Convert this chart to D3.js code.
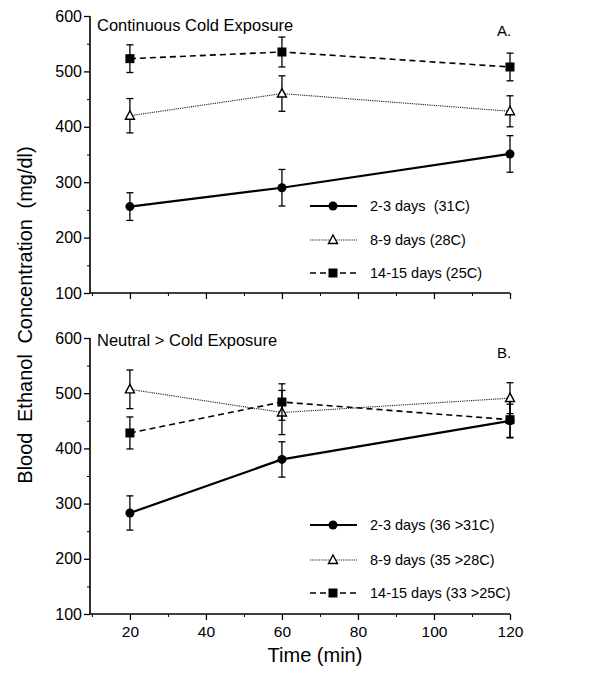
<!DOCTYPE html>
<html>
<head>
<meta charset="utf-8">
<script src="https://cdn.jsdelivr.net/npm/d3@7"></script>
<style>
body { margin: 0; background: #fff; }
svg { font-family: "Liberation Sans", Arial, sans-serif; }
</style>
</head>
<body>
<div id="chart"></div>
<script>
var width = 590, height = 675;

// shared
var times = [20, 60, 120];
var series_names = ['2-3 days', '8-9 days', '14-15 days'];

// panel A: continuous cold exposure
var a_labels = ['2-3 days  (31C)', '8-9 days (28C)', '14-15 days (25C)'];
var a_mean_23 = [256, 290, 351];
var a_err_23 = [25, 33, 33];
var a_mean_89 = [420, 460, 428];
var a_err_89 = [31, 32, 28];
var a_mean_1415 = [523, 535, 508];
var a_err_1415 = [25, 27, 25];

// panel B: neutral > cold exposure
var b_labels = ['2-3 days (36 >31C)', '8-9 days (35 >28C)', '14-15 days (33 >25C)'];
var b_mean_23 = [283, 380, 450];
var b_err_23 = [31, 32, 30];
var b_mean_89 = [507, 465, 491];
var b_err_89 = [35, 40, 28];
var b_mean_1415 = [428, 484, 452];
var b_err_1415 = [29, 33, 33];

var y_ticks = [100, 200, 300, 400, 500, 600];
var x_ticks = [20, 40, 60, 80, 100, 120];

var styles = [
    {dash: null, width: 2.2, marker: 'circle'},
    {dash: '1.2,1', width: 1.1, marker: 'triangle'},
    {dash: '6,4', width: 1.6, marker: 'square'}
];

var svg = d3.select('#chart').append('svg')
    .attr('width', width)
    .attr('height', height);

var x_scale = d3.scaleLinear().domain([9.5, 120]).range([90, 510]);

function drawPanel(top, bottom, title, title_dy, letter, labels, means, errs, legend_y, show_x_labels){
    var y_scale = d3.scaleLinear().domain([100, 600]).range([bottom, top]);
    var g = svg.append('g');

    // y axis
    var y_axis = d3.axisLeft(y_scale).tickValues(y_ticks).tickSize(6).tickPadding(2);
    var ya = g.append('g').attr('transform', 'translate(90,0)').call(y_axis);
    ya.select('.domain').attr('d', 'M0,' + y_scale(600) + 'V' + y_scale(100)).attr('stroke-width', 1.6);
    ya.selectAll('text').style('font-size', '16px').style('fill', '#000');
    ya.selectAll('line').attr('stroke-width', 1.3);
    g.append('g').attr('transform', 'translate(90,0)')
        .call(d3.axisLeft(y_scale).tickValues(d3.range(150, 600, 100)).tickSize(3).tickFormat(''))
        .select('.domain').remove();

    // x axis
    var x_axis = d3.axisBottom(x_scale).tickValues(x_ticks).tickSize(6).tickPadding(6);
    if(!show_x_labels) x_axis.tickFormat('');
    var xa = g.append('g').attr('transform', 'translate(0,' + bottom + ')').call(x_axis);
    xa.select('.domain').attr('d', 'M90,0H510').attr('stroke-width', 1.6);
    xa.selectAll('text').style('font-size', '15.5px').style('fill', '#000');
    xa.selectAll('line').attr('stroke-width', 1.3);
    g.append('g').attr('transform', 'translate(0,' + bottom + ')')
        .call(d3.axisBottom(x_scale).tickValues(d3.range(10, 120, 20)).tickSize(3).tickFormat(''))
        .select('.domain').remove();

    g.append('text').attr('x', 97).attr('y', top + title_dy)
        .style('font-size', '16.5px').text(title);
    g.append('text').attr('x', 497).attr('y', top + 20)
        .style('font-size', '15px').text(letter);

    var line = d3.line()
        .x(function(d){ return x_scale(d.t); })
        .y(function(d){ return y_scale(d.v); });

    means.forEach(function(m, i){
        var pts = times.map(function(t, j){ return {t: t, v: m[j], e: errs[i][j]}; });
        var st = styles[i];

        // error bars
        var eb = g.append('g');
        pts.forEach(function(p){
            var x = x_scale(p.t);
            eb.append('line').attr('x1', x).attr('x2', x)
                .attr('y1', y_scale(p.v - p.e)).attr('y2', y_scale(p.v + p.e))
                .attr('stroke', '#000').attr('stroke-width', 1.3);
            [p.v - p.e, p.v + p.e].forEach(function(v){
                eb.append('line').attr('x1', x - 3.5).attr('x2', x + 3.5)
                    .attr('y1', y_scale(v)).attr('y2', y_scale(v))
                    .attr('stroke', '#000').attr('stroke-width', 1.3);
            });
        });

        g.append('path').datum(pts)
            .attr('d', line)
            .attr('fill', 'none')
            .attr('stroke', i === 1 ? '#222' : '#000')
            .attr('stroke-width', st.width)
            .attr('stroke-dasharray', st.dash);

        pts.forEach(function(p){
            drawMarker(g, st.marker, x_scale(p.t), y_scale(p.v));
        });

        // legend
        var ly = legend_y[i];
        g.append('line').attr('x1', 310).attr('x2', 357).attr('y1', ly).attr('y2', ly)
            .attr('stroke', i === 1 ? '#222' : '#000')
            .attr('stroke-width', st.width)
            .attr('stroke-dasharray', st.dash);
        drawMarker(g, st.marker, 333, ly);
        g.append('text').attr('x', 370).attr('y', ly + 5)
            .style('font-size', '14.5px')
            .style('white-space', 'pre')
            .text(labels[i]);
    });
}

function drawMarker(g, type, x, y){
    if(type === 'circle'){
        g.append('circle').attr('cx', x).attr('cy', y).attr('r', 4.5).attr('fill', '#000');
    } else if(type === 'triangle'){
        g.append('path')
            .attr('d', 'M' + x + ',' + (y - 5) + 'L' + (x + 4.5) + ',' + (y + 3.5) + 'L' + (x - 4.5) + ',' + (y + 3.5) + 'Z')
            .attr('fill', '#fff').attr('stroke', '#000').attr('stroke-width', 1.4);
    } else {
        g.append('rect').attr('x', x - 4.5).attr('y', y - 4.5).attr('width', 9).attr('height', 9).attr('fill', '#000');
    }
}

drawPanel(16, 293, 'Continuous Cold Exposure', 15, 'A.', a_labels,
    [a_mean_23, a_mean_89, a_mean_1415], [a_err_23, a_err_89, a_err_1415], [206, 240, 273], false);
drawPanel(338, 614, 'Neutral > Cold Exposure', 8, 'B.', b_labels,
    [b_mean_23, b_mean_89, b_mean_1415], [b_err_23, b_err_89, b_err_1415], [525, 560, 593], true);

svg.append('text')
    .attr('transform', 'translate(32,315)rotate(-90)')
    .attr('text-anchor', 'middle')
    .style('font-size', '20px')
    .style('word-spacing', '5px')
    .text('Blood  Ethanol  Concentration  (mg/dl)');

svg.append('text')
    .attr('x', 315).attr('y', 662)
    .attr('text-anchor', 'middle')
    .style('font-size', '20px')
    .text('Time (min)');
</script>
</body>
</html>
